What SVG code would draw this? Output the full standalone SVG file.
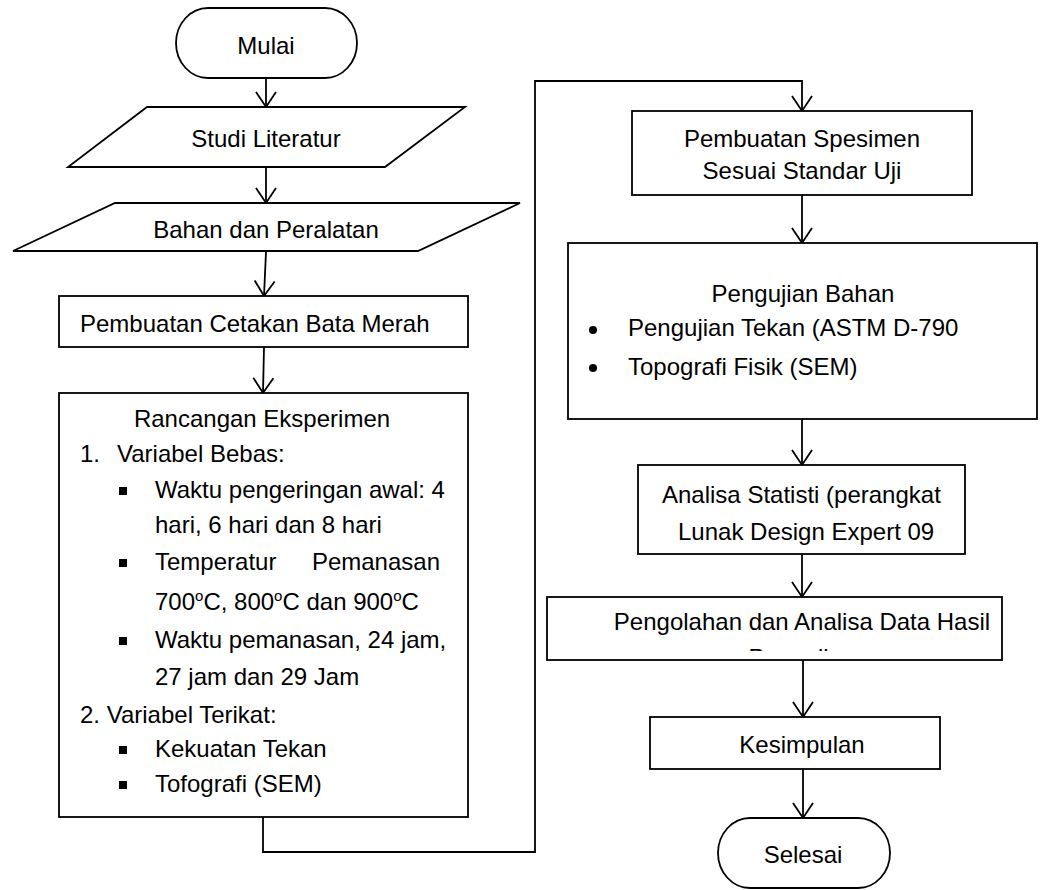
<svg xmlns="http://www.w3.org/2000/svg" width="1047" height="890" viewBox="0 0 1047 890">
<style>
.s{fill:#fff;stroke:#000;stroke-width:1.8}
.t{font-family:"Liberation Sans",Arial,sans-serif;font-size:24px;fill:#000}
.m{text-anchor:middle}
.e{text-anchor:end}
.c{fill:none;stroke:#000;stroke-width:1.8}
.sup{font-size:15px}
</style>
<defs>
<marker id="arr" markerUnits="userSpaceOnUse" markerWidth="20" markerHeight="24" viewBox="-17 -12 18 24" refX="0" refY="0" orient="auto" style="overflow:visible">
<path d="M-15,-10 L0,0 L-15,10" fill="none" stroke="#000" stroke-width="1.8"/>
</marker>
<clipPath id="clipP"><rect x="547" y="597" width="455" height="54"/></clipPath>
</defs>
<rect width="1047" height="890" fill="#fff"/>
<g id="connectors">
<path class="c" d="M266,78 L266,107" marker-end="url(#arr)"/>
<path class="c" d="M266,167 L266,203" marker-end="url(#arr)"/>
<path class="c" d="M266,252 L264,296" marker-end="url(#arr)"/>
<path class="c" d="M264,347 L263,393" marker-end="url(#arr)"/>
<path class="c" d="M263,817 L263,852 L535,852 L535,81 L802,81 L802,111" marker-end="url(#arr)"/>
<path class="c" d="M802,195 L802,243" marker-end="url(#arr)"/>
<path class="c" d="M802,419 L802,465" marker-end="url(#arr)"/>
<path class="c" d="M802,554 L802,597" marker-end="url(#arr)"/>
<path class="c" d="M803,660 L803,717" marker-end="url(#arr)"/>
<path class="c" d="M803,769 L803,818" marker-end="url(#arr)"/>
</g>
<g id="mulai">
<rect class="s" x="176" y="8" width="181" height="70" rx="32" ry="35"/>
<text class="t m" x="266" y="54">Mulai</text>
</g>
<g id="studi">
<polygon class="s" points="147,107 465,107 385,167 68,167"/>
<text class="t m" x="266" y="147">Studi Literatur</text>
</g>
<g id="bahan">
<polygon class="s" points="115,203 520,203 418,251 13,251"/>
<text class="t m" x="266" y="238">Bahan dan Peralatan</text>
</g>
<g id="cetakan">
<rect class="s" x="59" y="296" width="409" height="51"/>
<text class="t" x="80" y="332">Pembuatan Cetakan Bata Merah</text>
</g>
<g id="rancangan">
<rect class="s" x="59" y="393" width="409" height="424"/>
<text class="t m" x="262" y="427">Rancangan Eksperimen</text>
<text class="t" x="80" y="462">1.</text>
<text class="t" x="117" y="462">Variabel Bebas:</text>
<rect x="119" y="487" width="8" height="8" fill="#000"/>
<text class="t" x="155" y="498">Waktu pengeringan awal: 4</text>
<text class="t" x="155" y="533">hari, 6 hari dan 8 hari</text>
<rect x="119" y="559" width="8" height="8" fill="#000"/>
<text class="t" x="155" y="570">Temperatur</text>
<text class="t e" x="440" y="570">Pemanasan</text>
<text class="t" x="155" y="610">700<tspan class="sup" dy="-9">o</tspan><tspan dy="9">C, 800</tspan><tspan class="sup" dy="-9">o</tspan><tspan dy="9">C dan 900</tspan><tspan class="sup" dy="-9">o</tspan><tspan dy="9">C</tspan></text>
<rect x="119" y="637" width="8" height="8" fill="#000"/>
<text class="t" x="155" y="648">Waktu pemanasan, 24 jam,</text>
<text class="t" x="155" y="685">27 jam dan 29 Jam</text>
<text class="t" x="80" y="723">2. Variabel Terikat:</text>
<rect x="119" y="746" width="8" height="8" fill="#000"/>
<text class="t" x="155" y="757">Kekuatan Tekan</text>
<rect x="119" y="781" width="8" height="8" fill="#000"/>
<text class="t" x="155" y="792">Tofografi (SEM)</text>
</g>
<g id="spesimen">
<rect class="s" x="632" y="111" width="340" height="84"/>
<text class="t m" x="802" y="147">Pembuatan Spesimen</text>
<text class="t m" x="802" y="179">Sesuai Standar Uji</text>
</g>
<g id="pengujian">
<rect class="s" x="568" y="243" width="469" height="176"/>
<text class="t m" x="803" y="302">Pengujian Bahan</text>
<circle cx="593" cy="330" r="4" fill="#000"/>
<text class="t" x="628" y="336">Pengujian Tekan (ASTM D-790</text>
<circle cx="593" cy="368" r="4" fill="#000"/>
<text class="t" x="628" y="375">Topografi Fisik (SEM)</text>
</g>
<g id="analisa">
<rect class="s" x="638" y="465" width="327" height="89"/>
<text class="t" x="662" y="503">Analisa Statisti (perangkat</text>
<text class="t" x="678" y="540">Lunak Design Expert 09</text>
</g>
<g id="pengolahan">
<rect class="s" x="547" y="597" width="455" height="63"/>
<text class="t m" x="802" y="630">Pengolahan dan Analisa Data Hasil</text>
<text class="t m" x="802" y="666" clip-path="url(#clipP)">Pengujian</text>
</g>
<g id="kesimpulan">
<rect class="s" x="650" y="717" width="290" height="52"/>
<text class="t m" x="802" y="753">Kesimpulan</text>
</g>
<g id="selesai">
<rect class="s" x="718" y="818" width="172" height="70" rx="32" ry="35"/>
<text class="t m" x="803" y="863">Selesai</text>
</g>
</svg>
